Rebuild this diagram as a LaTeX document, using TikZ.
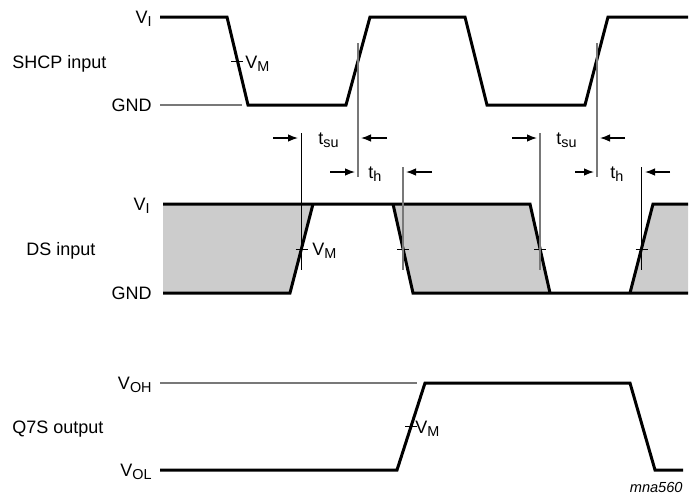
\documentclass[tikz,border=0pt]{standalone}
\usepackage{fontspec}
\setmainfont{Liberation Sans}
\usetikzlibrary{arrows.meta}
\definecolor{levgray}{RGB}{120,120,120}
\definecolor{dcgray}{RGB}{204,204,204}
\newcommand{\lowsub}[1]{\raisebox{-1.9pt}{\fontsize{7.2}{8}\selectfont #1}}
\tikzset{
  wave/.style={line width=1.5pt, line join=miter},
  level/.style={levgray, line width=0.6pt},
  vline/.style={line width=0.6pt},
  vmtick/.style={line width=0.5pt},
  lbl/.style={font=\fontsize{9}{10}\selectfont, inner sep=0pt},
  tim/.style={-{Latex[length=5pt,width=3.8pt]}, line width=0.7pt}
}
\begin{document}
\begin{tikzpicture}[x=0.5pt,y=-0.5pt]
\useasboundingbox (0,0) rectangle (691,499);
%SHCP input
\node[lbl,anchor=base east] (vi1) at (152,23) {V\lowsub{I}};
\node[lbl,anchor=base east] (gnd1) at (152,111) {GND};
\node[lbl,anchor=base west] (shcp) at (12,68) {SHCP input};
\draw[level] (160,105) -- (242,105);
\draw[wave] (160,17) -- (227,17) -- (248,105) -- (346,105) -- (370,17)
	-- (465,17) -- (487,105) -- (585,105) -- (608,17) -- (688,17);
\draw[vmtick] (231,61.5) -- +(12,0);
\node[lbl,anchor=base west] (vm1) at (245,68) {V\lowsub{M}};
%DS input
\fill[dcgray] (163,204) -- (313,204) -- (290,293) -- (163,293) -- cycle
	(393,204) -- (530,204) -- (550,293) -- (413,293) -- cycle
	(653,204) -- (688,204) -- (688,293) -- (630,293) -- cycle;
\node[lbl,anchor=base east] (vi2) at (150,210) {V\lowsub{I}};
\node[lbl,anchor=base east] (gnd2) at (152,299) {GND};
\node[lbl,anchor=base west] (ds) at (26,255) {DS input};
\draw[wave] (163,204) -- (530,204) -- (550,293);
\draw[wave] (163,293) -- (290,293) -- (313,204);
\draw[wave] (393,204) -- (413,293) -- (688,293);
\draw[wave] (630,293) -- (653,204) -- (688,204);
\foreach \x in {301.5,403,540,641.5}
	\draw[vmtick] (\x-6,249) -- +(12,0);
\node[lbl,anchor=base west] (vm2) at (312,255) {V\lowsub{M}};
%timing lines
\draw[vline] (301.5,133) coordinate (su1) -- (301.5,270);
\draw[vline,levgray] (358,43) -- (358,177) coordinate (ck1);
\draw[vline,levgray] (403,167) coordinate (h1) -- (403,270);
\draw[vline,levgray] (540,133) coordinate (su2) -- (540,270);
\draw[vline,levgray] (597,43) -- (597,177) coordinate (ck2);
\draw[vline] (641.5,167) coordinate (h2) -- (641.5,270);
%setup and hold
\draw[tim] (273,138) -- (298,138);
\draw[tim] (387,138) -- (361,138);
\draw[tim] (512,138) -- (537,138);
\draw[tim] (625,138) -- (600,138);
\draw[tim] (330,172) -- (355,172);
\draw[tim] (432,172) -- (406,172);
\draw[tim] (575,172) -- (594,172);
\draw[tim] (670,172) -- (645,172);
\node[lbl,anchor=base west] (tsu1) at (318,144) {t\lowsub{su}};
\node[lbl,anchor=base west] (th1) at (368,178) {t\lowsub{h}};
\node[lbl,anchor=base west] (tsu2) at (556,144) {t\lowsub{su}};
\node[lbl,anchor=base west] (th2) at (610,178) {t\lowsub{h}};
%Q7S output
\node[lbl,anchor=base east] (voh) at (152,389) {V\lowsub{OH}};
\node[lbl,anchor=base east] (vol) at (152,476) {V\lowsub{OL}};
\node[lbl,anchor=base west] (q7s) at (12,433) {Q7S output};
\draw[level] (160,383) -- (417,383);
\draw[wave] (160,470) -- (397,470) -- (425,383) -- (630,383) -- (655,470) -- (683,470);
\draw[vmtick] (405,426.5) -- +(12,0);
\node[lbl,anchor=base west] (vm3) at (415,433) {V\lowsub{M}};
\node[font=\fontsize{7.3}{8}\selectfont\itshape,inner sep=0pt,anchor=base east] (fig) at (683,492) {mna560};
\end{tikzpicture}
\end{document}
